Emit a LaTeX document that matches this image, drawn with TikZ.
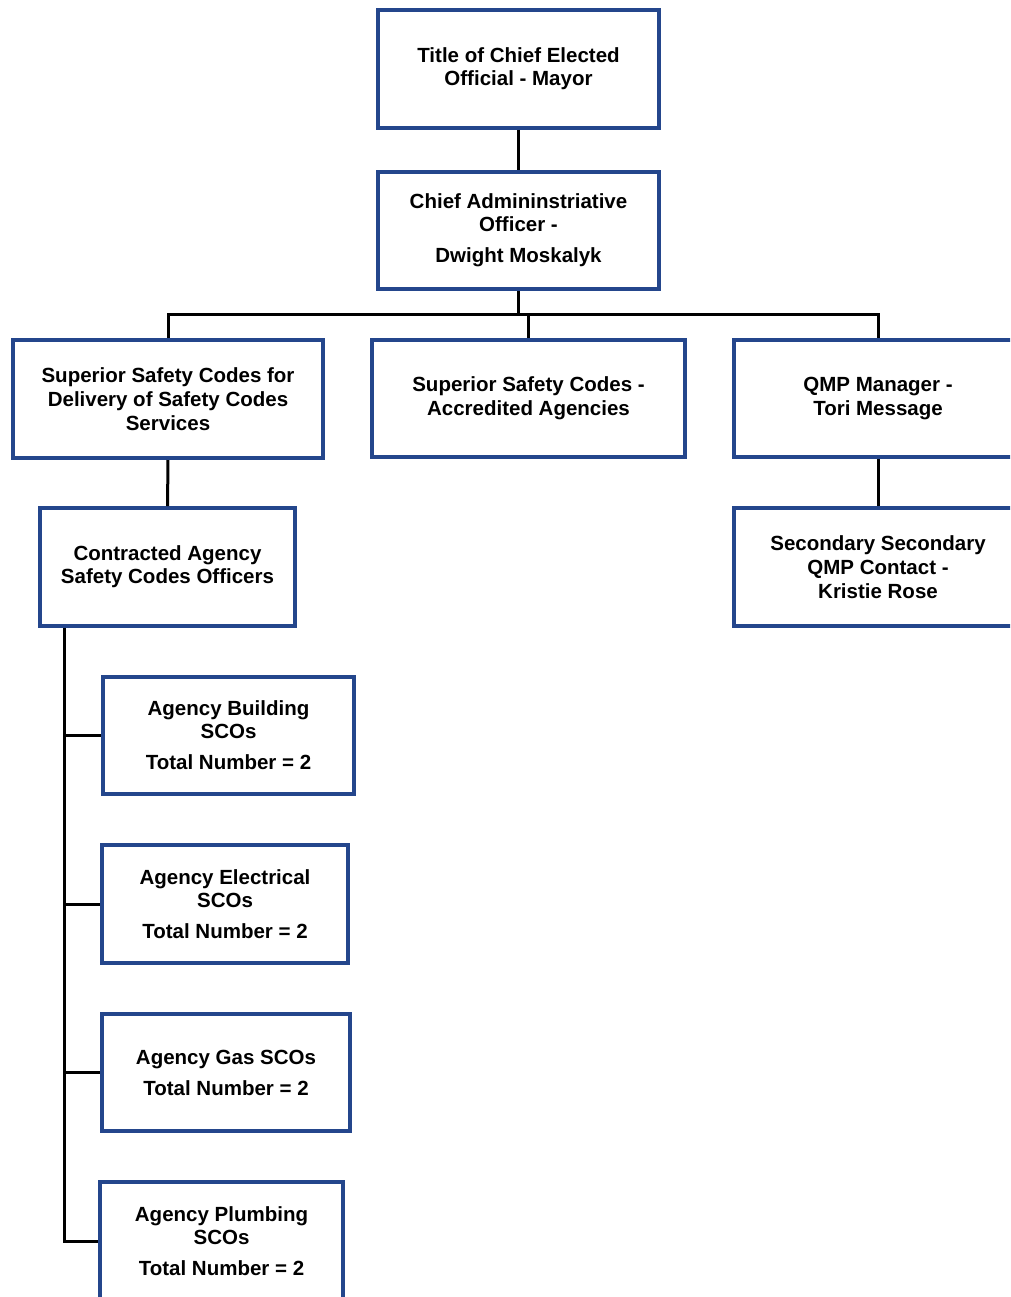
\documentclass[tikz,border=0pt]{standalone}
\usepackage{fontspec}
\setmainfont{Liberation Sans}
\usepackage{tikz}
\definecolor{boxblue}{RGB}{36,70,140}

\begin{document}
\begin{tikzpicture}[x=1pt,y=-1pt]
  \useasboundingbox (0,0) rectangle (1010,1297);
  \clip (0,0) rectangle (1010,1297);

  \begin{scope}[every node/.style={draw=boxblue, line width=4pt, fill=white, align=center,
      inner sep=0pt, font=\bfseries\fontsize{20.5}{23}\selectfont}]
      \node[minimum width=281, minimum height=118] (mayor) at (518.5,69) {Title of Chief Elected\\Official - Mayor};
      \node[minimum width=281, minimum height=117] (cao) at (518.5,230.5) {Chief Admininstriative\\Officer -\\[8pt]Dwight Moskalyk};

      \node[minimum width=310, minimum height=118] (deliv) at (168,399) {Superior Safety Codes for\\[1pt]Delivery of Safety Codes\\[1pt]Services};
      \node[minimum width=313, minimum height=117] (accr) at (528.5,398.5) {Superior Safety Codes -\\[1pt]Accredited Agencies};
      \node[minimum width=288, minimum height=117] (qmp) at (878,398.5) {QMP Manager -\\[1pt]Tori Message};

      \node[minimum width=255, minimum height=118] (contract) at (167.5,567) {Contracted Agency\\Safety Codes Officers};
      \node[minimum width=288, minimum height=118] (qmp2) at (878,567) {Secondary Secondary\\[1pt]QMP Contact -\\[1pt]Kristie Rose};

      \node[minimum width=251, minimum height=117] (bldg) at (228.5,735.5) {Agency Building\\SCOs\\[8pt]Total Number = 2};
      \node[minimum width=246, minimum height=118] (elec) at (225,904) {Agency Electrical\\SCOs\\[8pt]Total Number = 2};
      \node[minimum width=248, minimum height=117] (gas) at (226,1072.5) {Agency Gas SCOs\\[8pt]Total Number = 2};
      \node[minimum width=243, minimum height=118] (plumb) at (221.5,1241) {Agency Plumbing\\SCOs\\[8pt]Total Number = 2};
  \end{scope}

  \tikzset{org line/.style={black, line width=3pt}}

  \coordinate (bus) at (517,314);
  \coordinate (trunk) at (64,628);

  \draw[org line] (mayor) -- (cao);
  \draw[org line] (cao.south) -- (cao.south |- bus);
  \draw[org line] (deliv.north) |- (bus) -| (qmp.north);
  \draw[org line] (accr.north) -- (accr.north |- bus);

  \draw[org line] (deliv) -- (contract);
  \draw[org line] (qmp) -- (qmp2);

  \foreach \sco in {bldg,elec,gas,plumb}
    \draw[org line] (trunk) |- (\sco.west);

\end{tikzpicture}
\end{document}
